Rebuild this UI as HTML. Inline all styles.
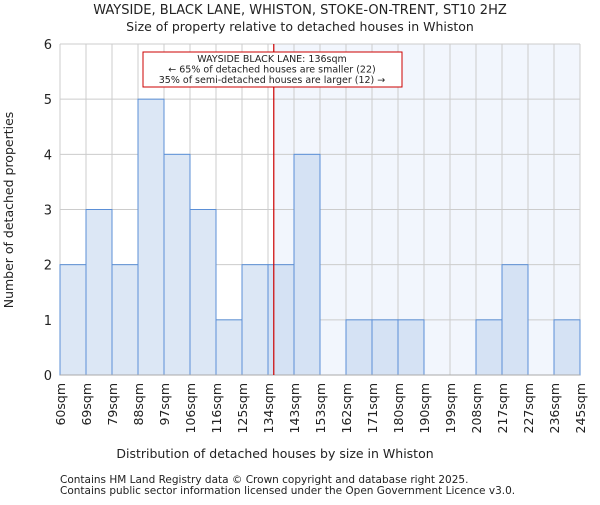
<!DOCTYPE html>
<html><head><meta charset="utf-8"><style>
body{margin:0;background:#fff;}
svg text{font-family:"DejaVu Sans","Liberation Sans",sans-serif;fill:#222;}
</style></head><body>
<svg width="600" height="500" id="c">
<text x="300" y="14" text-anchor="middle" font-size="13">WAYSIDE, BLACK LANE, WHISTON, STOKE-ON-TRENT, ST10 2HZ</text>
<text x="300" y="31" text-anchor="middle" font-size="12.5">Size of property relative to detached houses in Whiston</text>
<g id="plot"></g>
<text x="275" y="458" text-anchor="middle" font-size="12.5">Distribution of detached houses by size in Whiston</text>
<text transform="translate(13,210) rotate(-90)" text-anchor="middle" font-size="12.5">Number of detached properties</text>
<text x="60" y="483" font-size="10.5">Contains HM Land Registry data © Crown copyright and database right 2025.</text>
<text x="60" y="494" font-size="10.5">Contains public sector information licensed under the Open Government Licence v3.0.</text>
</svg>
<script>
const binLabels=["60sqm","69sqm","79sqm","88sqm","97sqm","106sqm","116sqm","125sqm","134sqm","143sqm","153sqm","162sqm","171sqm","180sqm","190sqm","199sqm","208sqm","217sqm","227sqm","236sqm","245sqm"];
const counts=[2,3,2,5,4,3,1,2,2,4,0,1,1,1,0,0,1,2,0,1];
const yTicks=[0,1,2,3,4,5,6];
const markerValue=136;
const binEdges=[60,69,79,88,97,106,116,125,134,143,153,162,171,180,190,199,208,217,227,236,245];
const X0=60,X1=580,Y0=375,Y1=44,YMAX=6;
const n=counts.length,bw=(X1-X0)/n;
const xi=i=>X0+i*bw;
const y=v=>Y0-(v/YMAX)*(Y0-Y1);
function xv(v){for(let i=0;i<n;i++){if(v>=binEdges[i]&&v<=binEdges[i+1])return xi(i)+bw*(v-binEdges[i])/(binEdges[i+1]-binEdges[i]);}return X1;}
const ns="http://www.w3.org/2000/svg",g=document.getElementById('plot');
function mk(t,a,p){const e=document.createElementNS(ns,t);for(const k in a)e.setAttribute(k,a[k]);(p||g).appendChild(e);return e;}
const mx=xv(markerValue);
let e=mk('rect',{x:mx,y:Y1,width:X1-mx,height:Y0-Y1,fill:'#f2f6fd'});


for(const t of yTicks){e=mk('line',{x1:X0,x2:X1,y1:y(t),y2:y(t),stroke:'#cccccc'});


e=mk('text',{x:X0-8,y:y(t)+5,'text-anchor':'end','font-size':'13'});e.textContent=t;

}
for(let i=0;i<=n;i++){e=mk('line',{x1:xi(i),x2:xi(i),y1:Y1,y2:Y0,stroke:'#cccccc'});

}
counts.forEach((c,i)=>{if(!c)return;const right=xi(i)>=mx-bw/2;
e=mk('rect',{x:xi(i),y:y(c),width:bw,height:Y0-y(c),fill:right?'#d5e2f4':'#dce7f5',stroke:'#5b8fd6','stroke-width':1});

});
e=mk('line',{x1:X0,x2:X1,y1:Y0,y2:Y0,stroke:'#aaaaaa'});


binLabels.forEach((l,i)=>{e=mk('text',{transform:`translate(${xi(i)+5},${Y0+8}) rotate(-90)`,'text-anchor':'end','font-size':'12.5'});e.textContent=l;

});
e=mk('line',{x1:mx,x2:mx,y1:Y1,y2:Y0,stroke:'#cc0000','stroke-width':1.2});


e=mk('rect',{x:143,y:52,width:259,height:35,fill:'#fff',stroke:'#cc0000'});


["WAYSIDE BLACK LANE: 136sqm","← 65% of detached houses are smaller (22)","35% of semi-detached houses are larger (12) →"].forEach((s,i)=>{e=mk('text',{x:272,y:62+i*10.5,'text-anchor':'middle','font-size':'9.5'});e.textContent=s;

});
</script>
</body></html>
